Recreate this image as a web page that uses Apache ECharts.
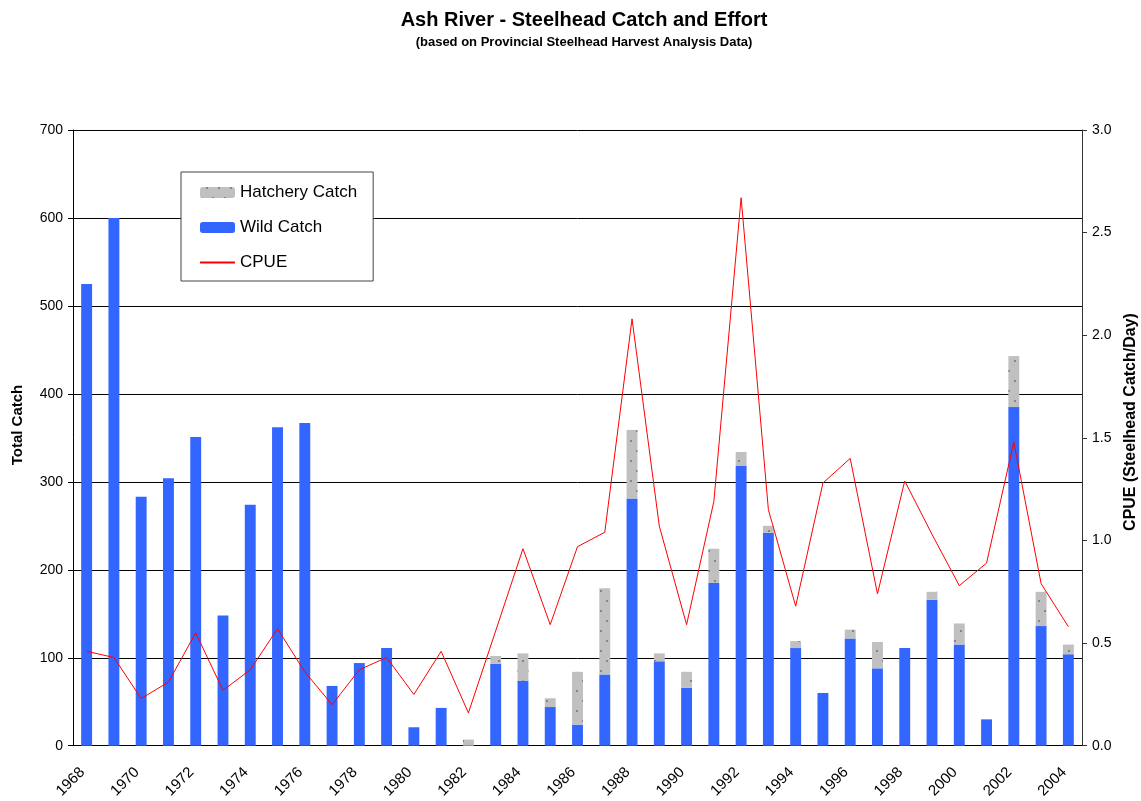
<!DOCTYPE html>
<html>
<head>
    <meta charset="utf-8"/>
    <script src="https://cdn.jsdelivr.net/npm/echarts@6/dist/echarts.min.js"></script>
    <style>
        body { margin: 0; background: #fff; }
    </style>
</head>
<body>
<div id="main" style="width: 1141px;height:801px;"></div>
<script type="text/javascript">
    // data
    var years = [];
    for (var y = 1968; y <= 2004; y++) years.push(String(y));

    var wildCatch = [525, 600, 283, 304, 351, 148, 274, 362, 367, 68,
        94, 111, 21, 43, 0, 93, 74, 44, 24, 81,
        281, 96, 66, 185, 318, 242, 111, 60, 122, 88,
        111, 166, 115, 30, 385, 136, 104];

    var hatcheryCatch = [0, 0, 0, 0, 0, 0, 0, 0, 0, 0,
        0, 0, 0, 0, 7, 9, 31, 10, 60, 98,
        78, 9, 18, 39, 16, 8, 8, 0, 10, 30,
        0, 9, 24, 0, 58, 39, 11];

    var cpue = [0.46, 0.43, 0.23, 0.31, 0.55, 0.27, 0.37, 0.57, 0.36, 0.20,
        0.37, 0.43, 0.25, 0.46, 0.16, 0.56, 0.96, 0.59, 0.97, 1.04,
        2.08, 1.07, 0.59, 1.19, 2.67, 1.15, 0.68, 1.28, 1.40, 0.74,
        1.29, 1.03, 0.78, 0.89, 1.48, 0.79, 0.58];

    var myChart = echarts.init(document.getElementById('main'));

    var option = {
        backgroundColor: '#fff',
        textStyle: {fontFamily: 'Liberation Sans, Arial, sans-serif'},
        animation: false,
        graphic: [
            {
                type: 'text', x: 584, y: 20,
                style: {text: 'Ash River - Steelhead Catch and Effort', font: 'bold 20px Liberation Sans, Arial', fill: '#000', align: 'center', verticalAlign: 'middle'}
            },
            {
                type: 'text', x: 584, y: 42,
                style: {text: '(based on Provincial Steelhead Harvest Analysis Data)', font: 'bold 13px Liberation Sans, Arial', fill: '#000', align: 'center', verticalAlign: 'middle'}
            },
            {
                type: 'text', x: 18, y: 425, rotation: Math.PI / 2,
                style: {text: 'Total Catch', font: 'bold 15px Liberation Sans, Arial', fill: '#000', align: 'center', verticalAlign: 'middle'}
            },
            {
                type: 'text', x: 1131, y: 422, rotation: Math.PI / 2,
                style: {text: 'CPUE (Steelhead Catch/Day)', font: 'bold 16px Liberation Sans, Arial', fill: '#000', align: 'center', verticalAlign: 'middle'}
            }
        ],
        legend: {
            orient: 'vertical',
            left: 181,
            top: 172,
            padding: [12, 16, 10, 18],
            itemGap: 18,
            itemWidth: 35,
            itemHeight: 11,
            backgroundColor: '#fff',
            borderColor: '#444',
            borderWidth: 1,
            textStyle: {fontSize: 17, color: '#000'},
            data: ['Hatchery Catch', 'Wild Catch', {name: 'CPUE', itemStyle: {opacity: 0}}]
        },
        grid: {
            left: 73,
            right: 59,
            top: 130,
            bottom: 54
        },
        xAxis: {
            type: 'category',
            data: years,
            axisLine: {lineStyle: {color: '#000'}},
            axisTick: {interval: 0, length: 5, lineStyle: {color: '#000'}},
            axisLabel: {interval: 1, rotate: 45, fontSize: 15, color: '#000', margin: 20, padding: [0, 6, 0, 0]}
        },
        yAxis: [
            {
                type: 'value',
                min: 0,
                max: 700,
                interval: 100,
                axisLine: {show: true, lineStyle: {color: '#000'}},
                axisTick: {show: true, length: 5, lineStyle: {color: '#000'}},
                axisLabel: {fontSize: 14, color: '#000', margin: 10},
                splitLine: {lineStyle: {color: '#000', width: 1}}
            },
            {
                type: 'value',
                min: 0,
                max: 3,
                interval: 0.5,
                position: 'right',
                axisLine: {show: true, lineStyle: {color: '#333'}},
                axisTick: {show: true, length: 5, lineStyle: {color: '#333'}},
                axisLabel: {
                    fontSize: 14, color: '#000', margin: 10,
                    formatter: function (v) { return v.toFixed(1); }
                },
                splitLine: {show: false}
            }
        ],
        series: [
            {
                name: 'Wild Catch',
                type: 'bar',
                stack: 'catch',
                barWidth: '40%',
                data: wildCatch,
                itemStyle: {color: '#3366FF'}
            },
            {
                name: 'Hatchery Catch',
                type: 'bar',
                stack: 'catch',
                barWidth: '40%',
                data: hatcheryCatch,
                itemStyle: {
                    color: '#C0C0C0',
                    decal: {
                        symbol: 'circle',
                        symbolSize: 0.9,
                        color: '#6a6a6a',
                        dashArrayX: [[2, 10], [0, 6, 2, 4]],
                        dashArrayY: [2, 8]
                    }
                }
            },
            {
                name: 'CPUE',
                type: 'line',
                yAxisIndex: 1,
                data: cpue,
                symbol: 'none',
                lineStyle: {color: '#FF0000', width: 1},
                itemStyle: {color: '#FF0000'}
            }
        ]
    };

    myChart.setOption(option);
</script>
</body>
</html>
